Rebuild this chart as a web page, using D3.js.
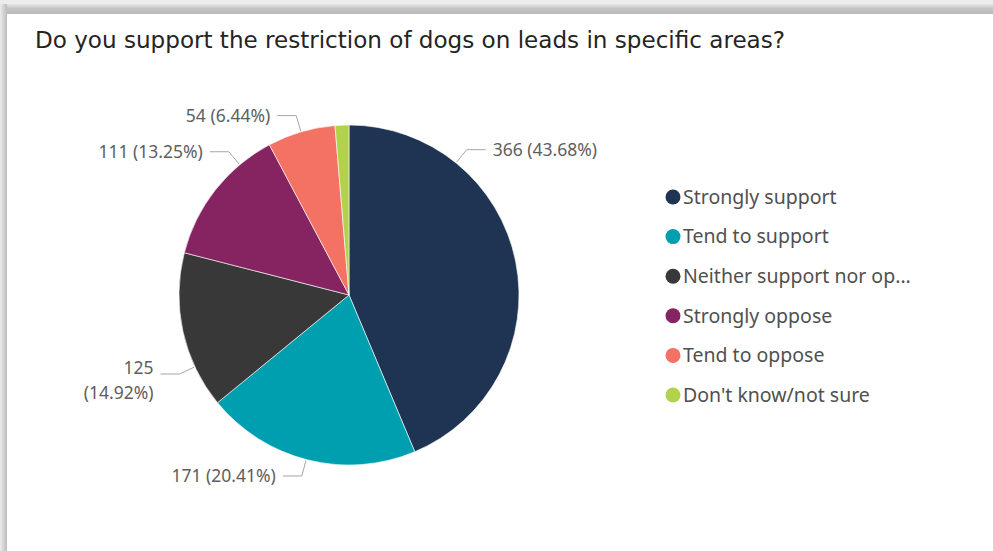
<!DOCTYPE html>
<html>
<head>
<meta charset="utf-8">
<script src="https://cdn.jsdelivr.net/npm/d3@7"></script>
<style>
  html, body { margin: 0; padding: 0; background: #fff; }
  svg { display: block; }
</style>
</head>
<body>
<svg id="chart" width="993" height="551"></svg>
<script>
// ---- data ----
const title = "Do you support the restriction of dogs on leads in specific areas?";
const categories = ["Strongly support", "Tend to support", "Neither support nor oppose", "Strongly oppose", "Tend to oppose", "Don't know/not sure"];
const legendLabels = ["Strongly support", "Tend to support", "Neither support nor op...", "Strongly oppose", "Tend to oppose", "Don't know/not sure"];
const values = [366, 171, 125, 111, 54, 11];
const colors = ["#1F3452", "#009FB0", "#383838", "#862461", "#F47264", "#B2D24C"];
// layout: angles (deg, clockwise from top) where data-label leaders leave the pie; null = no label
const labelAngles = [39, 194.6, 245, 320, 343.6, null];
const labelWrap = [false, false, true, false, false, false];

const W = 993, H = 551;
const svg = d3.select("#chart");

// panel shadow frame
const defs = svg.append("defs");
const gTop = defs.append("linearGradient").attr("id", "gTop").attr("x1", 0).attr("y1", 0).attr("x2", 0).attr("y2", 1);
gTop.append("stop").attr("offset", "0%").attr("stop-color", "#ececec");
gTop.append("stop").attr("offset", "35%").attr("stop-color", "#e0e0e0");
gTop.append("stop").attr("offset", "60%").attr("stop-color", "#c4c4c4");
gTop.append("stop").attr("offset", "100%").attr("stop-color", "#b8b8b8");
const gLeft = defs.append("linearGradient").attr("id", "gLeft").attr("x1", 0).attr("y1", 0).attr("x2", 1).attr("y2", 0);
gLeft.append("stop").attr("offset", "0%").attr("stop-color", "#ececec");
gLeft.append("stop").attr("offset", "45%").attr("stop-color", "#d6d6d6");
gLeft.append("stop").attr("offset", "100%").attr("stop-color", "#bdbdbd");

svg.append("rect").attr("x", 0).attr("y", 0).attr("width", W).attr("height", H).attr("fill", "#fff");
svg.append("rect").attr("x", 0).attr("y", 0).attr("width", W).attr("height", 14).attr("fill", "url(#gTop)");
svg.append("rect").attr("x", 0).attr("y", 0).attr("width", 7).attr("height", H).attr("fill", "url(#gLeft)");
svg.append("rect").attr("x", 0).attr("y", 0).attr("width", W).attr("height", 4).attr("fill", "#ececec");

// title
svg.append("text")
  .attr("x", 35).attr("y", 48)
  .attr("font-family", "'DejaVu Sans Condensed', 'Liberation Sans Narrow', sans-serif")
  .attr("font-size", 22.5)
  .attr("fill", "#252423")
  .attr("textLength", 750).attr("lengthAdjust", "spacingAndGlyphs")
  .text(title);

// pie
const cx = 349, cy = 295, r = 170;
const total = d3.sum(values);
const pie = d3.pie().sort(null).value(d => d)(values);
const arc = d3.arc().innerRadius(0).outerRadius(r);
const g = svg.append("g").attr("transform", `translate(${cx},${cy})`);
g.selectAll("path.slice").data(pie).join("path")
  .attr("class", "slice")
  .attr("d", arc)
  .attr("fill", (d, i) => colors[i])
  .attr("stroke", "#fff").attr("stroke-width", 0.6);

// data labels
const pt = (deg, rad) => {
  const a = deg * Math.PI / 180;
  return [rad * Math.sin(a), -rad * Math.cos(a)];
};
values.forEach((v, i) => {
  const ang = labelAngles[i];
  if (ang == null) return;
  const side = Math.sin(ang * Math.PI / 180) >= 0 ? 1 : -1;
  const p0 = pt(ang, r + 1);
  const p1 = pt(ang, r + 17);
  const p2 = [p1[0] + side * 19, p1[1]];
  g.append("polyline")
    .attr("points", [p0, p1, p2].map(p => p.join(",")).join(" "))
    .attr("fill", "none").attr("stroke", "#a6a6a6").attr("stroke-width", 1);
  const pct = (v / total * 100).toFixed(2);
  const t = g.append("text")
    .attr("x", p2[0] + side * 7).attr("y", p2[1])
    .attr("text-anchor", side > 0 ? "start" : "end")
    .attr("font-family", "'Noto Sans', 'Open Sans', sans-serif")
    .attr("font-size", 17.5)
    .attr("fill", "#605E5C");
  if (labelWrap[i]) {
    t.append("tspan").attr("x", p2[0] + side * 7).attr("dy", "0em").text(`${v}`);
    t.append("tspan").attr("x", p2[0] + side * 7).attr("dy", "1.45em").text(`(${pct}%)`);
  } else {
    t.attr("dy", "0.35em").text(`${v} (${pct}%)`);
  }
});

// legend
const lg = svg.append("g").attr("transform", "translate(673,197)");
const rowH = 39.6;
legendLabels.forEach((lab, i) => {
  lg.append("circle").attr("cx", 0).attr("cy", i * rowH).attr("r", 7.5).attr("fill", colors[i]);
  lg.append("text")
    .attr("x", 10).attr("y", i * rowH).attr("dy", "0.35em")
    .attr("font-family", "'Noto Sans', 'Open Sans', sans-serif")
    .attr("font-size", 19.5)
    .attr("fill", "#505050")
    .text(lab);
});
</script>
</body>
</html>
